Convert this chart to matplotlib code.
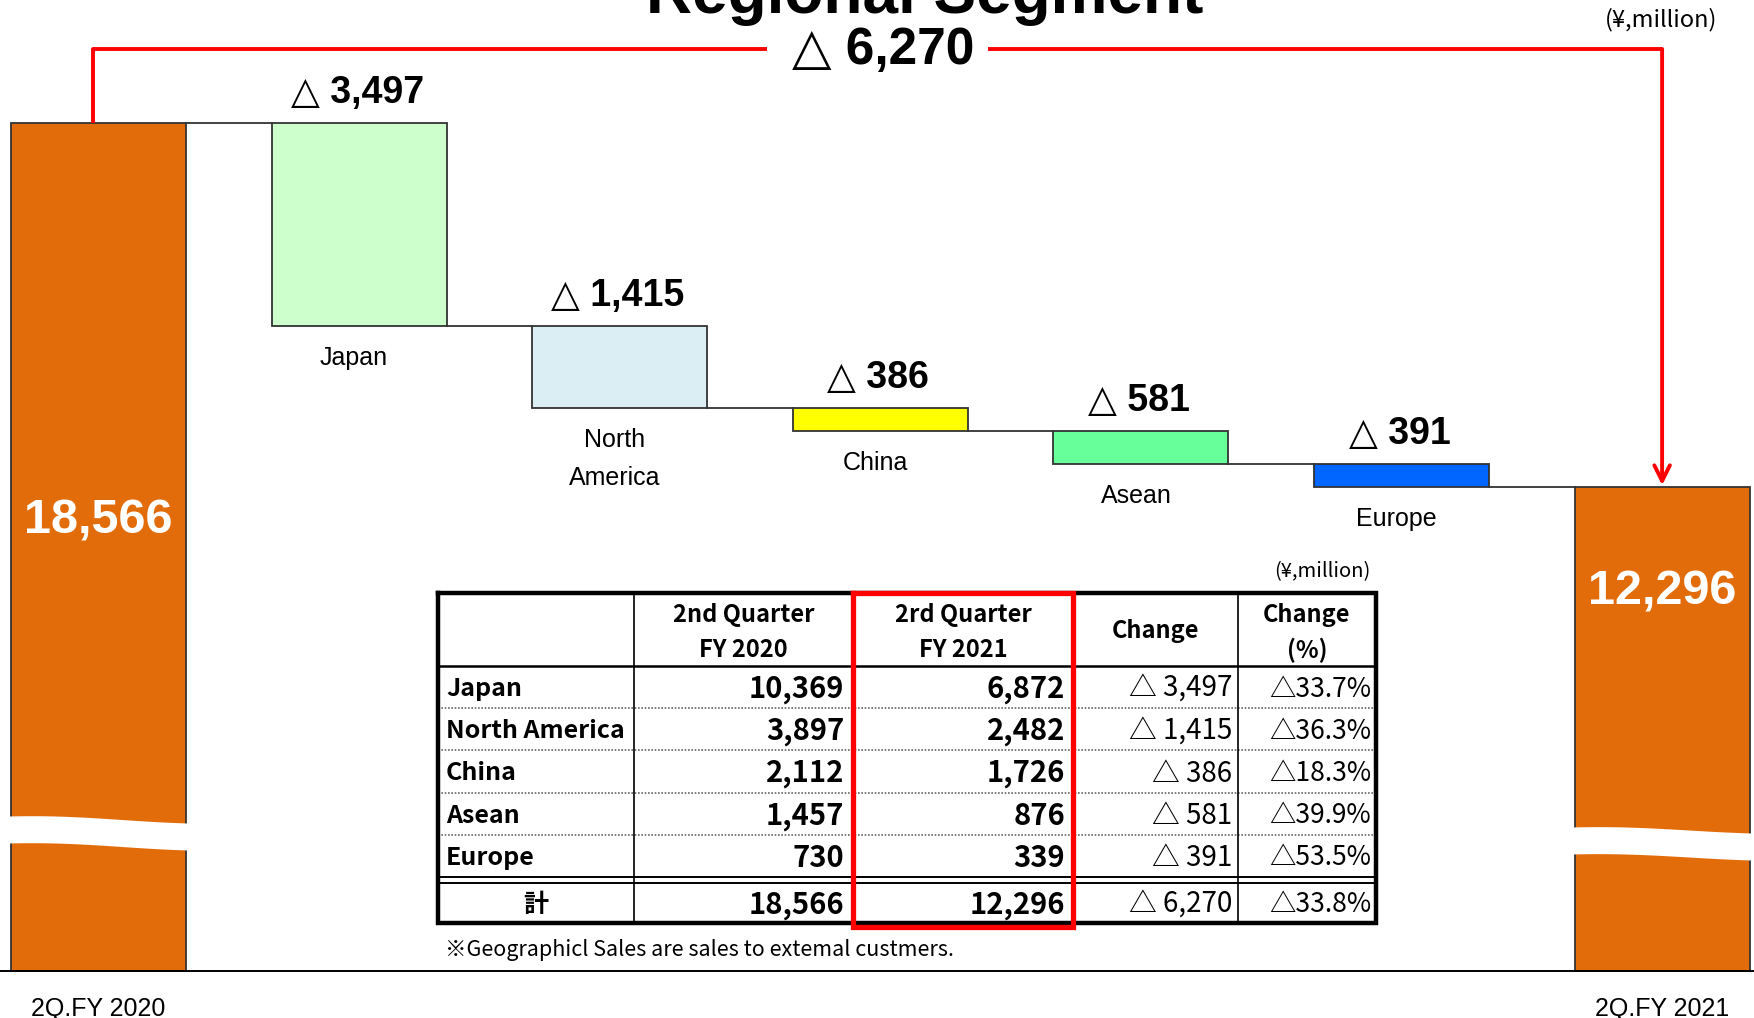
import numpy as np
import matplotlib.pyplot as plt

# sales by region, ¥ million
start_total = 18566
end_total = 12296
regions = ["Japan", "North America", "China", "Asean", "Europe"]
bar_names = ["Japan", "North\nAmerica", "China", "Asean", "Europe"]
decreases = [3497, 1415, 386, 581, 391]
fy2020 = [10369, 3897, 2112, 1457, 730]
fy2021 = [6872, 2482, 1726, 876, 339]
change_pct = [33.7, 36.3, 18.3, 39.9, 53.5]
total_change = 6270
total_pct = 33.8
period_labels = ["2Q.FY 2020", "2Q.FY 2021"]
headers = ["", "2nd Quarter\nFY 2020", "2rd Quarter\nFY 2021", "Change", "Change\n(%)"]

bar_colors = ["#CCFFCC", "#DAEEF3", "#FFFF00", "#66FF99", "#0066FF"]
total_color = "#E36C0A"

latin = ["Liberation Sans", "DejaVu Sans"]
jp = ["Noto Sans CJK JP", "DejaVu Sans"]

W, H = 1754, 1018
fig = plt.figure(figsize=(W / 100, H / 100), dpi=100)
fig.patch.set_facecolor("white")
ax = fig.add_axes([0, 0, 1, 1])

# pixel layout -> data scale
top_px, px_per_unit = 123, 0.05805
x0_px, step_px = 98.5, 260.6


def y_at(p):
    return start_total - (p - top_px) / px_per_unit


def x_at(p):
    return (p - x0_px) / step_px


ax.set_xlim(x_at(0), x_at(W))
ax.set_ylim(y_at(H), y_at(0))
ax.axis("off")

base = y_at(971)
width = 0.672
n = len(decreases)
xs = np.arange(n + 2)
levels = start_total - np.cumsum([0] + decreases)

# totals (broken axis)
ax.bar([xs[0], xs[-1]], [start_total - base, end_total - base], bottom=base, width=width,
       color=total_color, edgecolor="#333333", linewidth=1.3, zorder=2)
# regional decreases
ax.bar(xs[1:n + 1], decreases, bottom=levels[1:], width=width, color=bar_colors,
       edgecolor="#333333", linewidth=1.3, zorder=2)

for i in range(n + 1):
    ax.plot([xs[i] + width / 2, xs[i + 1] - width / 2], [levels[i], levels[i]],
            color="#333333", lw=1.3, zorder=1)

ax.axhline(base, color="black", lw=1.4, zorder=4)

# wave breaks
t = np.linspace(0, 1, 80)
for xc, top_p, drop_p in [(xs[0], 816, 7), (xs[-1], 827, 6)]:
    xx = xc - width / 2 - 0.01 + t * (width + 0.02)
    edge = y_at(top_p + drop_p * (1 - np.cos(np.pi * t)) / 2 - 1.5 * np.sin(np.pi * t))
    ax.fill_between(xx, edge - 27 / px_per_unit, edge, color="white", lw=0, zorder=3)

# value labels
ax.text(xs[0], y_at(521), f"{start_total:,}", color="white", fontsize=35, weight="bold",
        family=latin, ha="center", va="center", zorder=5)
ax.text(xs[-1], y_at(592), f"{end_total:,}", color="white", fontsize=35, weight="bold",
        family=latin, ha="center", va="center", zorder=5)

for i in range(n):
    ax.annotate(f"△ {decreases[i]:,}", xy=(xs[i + 1], levels[i]), xytext=(-2, 30),
                textcoords="offset pixels", ha="center", va="center",
                fontsize=27, weight="bold", family=latin)
    ax.annotate(bar_names[i], xy=(xs[i + 1], levels[i + 1]), xytext=(-5, -20),
                textcoords="offset pixels", ha="center", va="top",
                fontsize=18, family=latin, linespacing=1.75)

for xc, lab in zip([xs[0], xs[-1]], period_labels):
    ax.text(xc, y_at(1016), lab, fontsize=18, family=latin, ha="center", va="baseline")

# red bracket for the total change
by = y_at(49)
red_lw = 2.8
ax.plot([x_at(93), x_at(93), x_at(767)], [start_total, by, by], color="red", lw=red_lw,
        solid_capstyle="butt", zorder=6)
ax.plot([x_at(988), xs[-1]], [by, by], color="red", lw=red_lw, solid_capstyle="butt", zorder=6)
ax.annotate("", xy=(xs[-1], end_total + 30), xytext=(xs[-1], by),
            arrowprops=dict(arrowstyle="->,head_length=0.7,head_width=0.35", color="red",
                            lw=red_lw, shrinkA=0, shrinkB=0, mutation_scale=16), zorder=6)
ax.text(x_at(883), y_at(51), f"△ {total_change:,}", fontsize=37, weight="bold",
        family=latin, ha="center", va="center", zorder=6)

fig.text(925 / W, 1 - 13 / H, "Regional Segment", fontsize=46, weight="bold",
         family=latin, ha="center", va="baseline")
fig.text(1717 / W, 1 - 20 / H, "(¥,million)", fontsize=17, family=jp, ha="right", va="center")

# ---- table ----
tax = fig.add_axes([0, 0, 1, 1], zorder=5)
tax.set_xlim(0, W)
tax.set_ylim(H, 0)
tax.axis("off")
tax.patch.set_visible(False)

cx = [438, 634, 853, 1073, 1238, 1376]
head_top, head_bot = 593, 666
row_h = 42.2
row_edges = [head_bot + row_h * k for k in range(n + 1)]
tot_top, tot_bot = row_edges[-1] + 6, 923

tax.text(1371, 572, "(¥,million)", fontsize=14.5, family=jp, ha="right", va="center")

# grid lines
for k in range(1, n):
    tax.plot([cx[0], cx[-1]], [row_edges[k]] * 2, color="#666666", lw=1.2, ls=(0, (1, 1)))
tax.plot([cx[0], cx[-1]], [head_bot] * 2, color="black", lw=1.8)
tax.plot([cx[0], cx[-1]], [row_edges[-1]] * 2, color="black", lw=1.4)
tax.plot([cx[0], cx[-1]], [tot_top] * 2, color="black", lw=1.4)
for xv in cx[1:-1]:
    tax.plot([xv, xv], [head_top, tot_bot], color="black", lw=1.2)
tax.plot([cx[0], cx[-1], cx[-1], cx[0], cx[0]],
         [head_top, head_top, tot_bot, tot_bot, head_top], color="black", lw=3.2,
         solid_joinstyle="miter")
tax.plot([cx[2], cx[3], cx[3], cx[2], cx[2]],
         [head_top, head_top, 927, 927, head_top], color="red", lw=3.8,
         solid_joinstyle="miter", zorder=5)

# headers
for j in range(1, 5):
    mid = (cx[j] + cx[j + 1]) / 2
    lines = headers[j].split("\n")
    if len(lines) == 2:
        tax.text(mid, 615, lines[0], fontsize=17, weight="bold", family=jp, ha="center", va="center")
        tax.text(mid, 650, lines[1], fontsize=17, weight="bold", family=jp, ha="center", va="center")
    else:
        tax.text(mid, 631, lines[0], fontsize=17, weight="bold", family=jp, ha="center", va="center")

# body rows
for k in range(n):
    yc = (row_edges[k] + row_edges[k + 1]) / 2 + 2
    tax.text(cx[0] + 8, yc, regions[k], fontsize=18, weight="bold", family=jp, va="center")
    tax.text(cx[2] - 9, yc, f"{fy2020[k]:,}", fontsize=21, weight="bold", family=jp,
             ha="right", va="center")
    tax.text(cx[3] - 8, yc, f"{fy2021[k]:,}", fontsize=21, weight="bold", family=jp,
             ha="right", va="center")
    tax.text(cx[4] - 6, yc, f"△ {decreases[k]:,}", fontsize=20, family=jp, ha="right", va="center")
    tax.text(cx[5] - 5, yc, f"△{change_pct[k]:.1f}%", fontsize=19, family=jp, ha="right", va="center")

yc = (tot_top + tot_bot) / 2 + 2
tax.text((cx[0] + cx[1]) / 2, yc, "計", fontsize=18, weight="bold", family=jp, ha="center", va="center")
tax.text(cx[2] - 9, yc, f"{start_total:,}", fontsize=21, weight="bold", family=jp, ha="right", va="center")
tax.text(cx[3] - 8, yc, f"{end_total:,}", fontsize=21, weight="bold", family=jp, ha="right", va="center")
tax.text(cx[4] - 6, yc, f"△ {total_change:,}", fontsize=20, family=jp, ha="right", va="center")
tax.text(cx[5] - 5, yc, f"△{total_pct:.1f}%", fontsize=19, family=jp, ha="right", va="center")

tax.text(445, 950, "※Geographicl Sales are sales to extemal custmers.", fontsize=15.5,
         family=jp, va="center")

fig.savefig("out.png", dpi=100)
